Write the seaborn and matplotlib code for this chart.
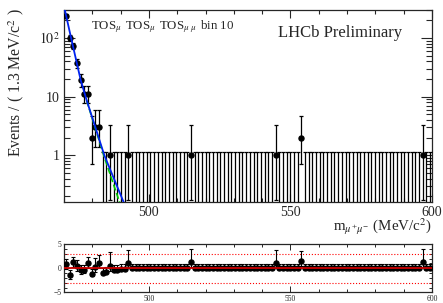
import numpy as np
import pandas as pd
import seaborn as sns
import matplotlib
matplotlib.use("Agg")
from matplotlib import pyplot as plt
from matplotlib.ticker import FixedLocator, FixedFormatter, MultipleLocator, NullFormatter

# binning: 100 bins of 1.3 MeV between 470 and 600
x_lo, x_hi, bin_w = 470.0, 600.0, 1.3

# counts of the first bins, then the isolated non-empty bins further out
counts_head = [240, 100, 73, 37, 19, 11, 11, 2, 3, 3, 0, 0]
tail_bins = [12, 17, 34, 57, 64, 97]
tail_counts = [1, 1, 1, 1, 2, 1]

# Poisson (Garwood) intervals used by the data points
poisson_lo = {0: 0.0, 1: 0.83, 2: 1.29, 3: 1.63, 11: 3.3, 19: 4.3, 37: 6.1, 73: 8.5, 100: 9.5, 240: 15.5}
poisson_hi = {0: 1.15, 1: 2.30, 2: 2.64, 3: 2.92, 11: 4.4, 19: 5.4, 37: 7.1, 73: 9.6, 100: 11.0, 240: 16.5}

# fit curves
total_x = [470.0, 472.1, 475.9, 478.0, 484.24, 490.95, 492.0]
total_y = [348.0, 122.0, 19.1, 8.7, 1.0, 0.164, 0.125]
comp_x = [478.0, 484.24, 489.6, 491.0]
comp_y = [8.6, 0.93, 0.16, 0.10]

# pulls of the first 18 bins
pull_head = [0.8, -1.4, 1.2, 0.5, -0.3, -0.3, 1.0, -1.1, 0.3, 1.0,
             -1.0, -0.7, 0.5, -0.4, -0.3, -0.2, -0.1, 1.0]
pull_lo_head = [1.0, 0.86, 1.0, 1.0, 0.8, 0.75, 1.0, 0.49, 1.0, 1.0,
                0.0, 0.0, 1.0, 0.0, 0.0, 0.0, 0.0, 1.0]
pull_hi_head = [1.06, 1.0, 1.13, 1.16, 1.0, 1.0, 1.33, 1.0, 1.79, 1.79,
                1.0, 1.0, 2.77, 1.0, 1.0, 1.0, 1.0, 2.77]
pull_tail_bins = [34, 57, 64, 97]
pull_tail = [1.2, 1.0, 1.5, 1.2]
pull_tail_hi = [2.77, 2.77, 2.05, 2.77]
pull_empty = -0.05

n_bins = int(round((x_hi - x_lo) / bin_w))
centers = x_lo + bin_w * (np.arange(n_bins) + 0.5)

counts = np.zeros(n_bins, dtype=int)
counts[:len(counts_head)] = counts_head
counts[tail_bins] = tail_counts
err_lo = np.array([poisson_lo[c] for c in counts])
err_hi = np.array([poisson_hi[c] for c in counts])

pulls = np.full(n_bins, pull_empty)
p_lo = np.zeros(n_bins)
p_hi = np.ones(n_bins)
pulls[:len(pull_head)] = pull_head
p_lo[:len(pull_head)] = pull_lo_head
p_hi[:len(pull_head)] = pull_hi_head
pulls[pull_tail_bins] = pull_tail
p_lo[pull_tail_bins] = 1.0
p_hi[pull_tail_bins] = pull_tail_hi

sns.set_theme(style="ticks")
plt.rcParams['font.family'] = ['Liberation Serif', 'DejaVu Serif']
plt.rcParams['mathtext.fontset'] = 'stix'
plt.rcParams['axes.linewidth'] = 0.9
plt.rcParams['xtick.direction'] = 'in'
plt.rcParams['ytick.direction'] = 'in'

fig = plt.figure(figsize=(4.43, 3.03), dpi=100)
ax = fig.add_axes([0.1445, 0.3333, 0.8307, 0.6337])
axp = fig.add_axes([0.1445, 0.0347, 0.8307, 0.160])

# ---- main panel ----
ax.set_yscale('log')
ax.errorbar(centers, counts, yerr=[err_lo, err_hi], fmt='o', color='black',
            markersize=3.6, elinewidth=0.9, capsize=1.4, capthick=0.9, zorder=3)
curves = pd.DataFrame({'x': total_x, 'y': total_y})
comps = pd.DataFrame({'x': comp_x, 'y': comp_y})
sns.lineplot(data=comps, x='x', y='y', ax=ax, color='#00cc00', lw=1.2,
             linestyle='--', zorder=4)
sns.lineplot(data=curves, x='x', y='y', ax=ax, color='#0022ee', lw=1.3, zorder=5)

ax.set_xlim(x_lo, x_hi)
ax.set_ylim(0.16, 300)
ax.yaxis.set_major_locator(FixedLocator([1, 10, 100]))
ax.yaxis.set_major_formatter(FixedFormatter(['1', '10', '$10^2$']))
minors = [m * 10.0 ** e for e in (-1, 0, 1, 2) for m in range(2, 10)]
ax.yaxis.set_minor_locator(FixedLocator(minors))
ax.yaxis.set_minor_formatter(NullFormatter())
ax.xaxis.set_major_locator(MultipleLocator(50))
ax.xaxis.set_minor_locator(MultipleLocator(10))
ax.tick_params(which='both', top=True, right=True, labelsize=10, pad=3)
ax.tick_params(axis='y', which='major', length=8, width=0.8)
ax.tick_params(axis='y', which='minor', length=4.5, width=0.8)
ax.tick_params(axis='x', which='major', length=6, width=0.8)
ax.tick_params(axis='x', which='minor', length=3, width=0.8)
ax.set_xlabel('')
ax.set_ylabel('')

ax.text(0.0726, 0.911,
        r'TOS$_{\mu}\;\,$TOS$_{\mu}\;\,$TOS$_{\mu\;\mu}\,$ bin 10',
        transform=ax.transAxes, fontsize=9.3, ha='left', va='center')
ax.text(0.5815, 0.880, 'LHCb Preliminary', transform=ax.transAxes,
        fontsize=12, ha='left', va='center')
fig.text(0.036, 0.726, r'Events / ( 1.3 MeV/c$^2$ )', rotation=90,
         fontsize=11.3, ha='center', va='center')
fig.text(0.975, 0.251, r'm$_{\mu^{+}\mu^{-}}$ (MeV/c$^2$)', fontsize=10.8,
         ha='right', va='center')

# ---- pull panel ----
ref = pd.DataFrame({'x': [x_lo, x_hi], 'zero': [0, 0], 'up': [3, 3], 'dn': [-3, -3]})
sns.lineplot(data=ref, x='x', y='up', ax=axp, color='red', lw=0.8, linestyle=':')
sns.lineplot(data=ref, x='x', y='dn', ax=axp, color='red', lw=0.8, linestyle=':')
axp.errorbar(centers, pulls, yerr=[p_lo, p_hi], fmt='o', color='black',
             markersize=3.6, elinewidth=0.8, capsize=1.2, capthick=0.8, zorder=3)
sns.lineplot(data=ref, x='x', y='zero', ax=axp, color='#cc0000', lw=1.3, zorder=4)
axp.set_xlim(x_lo, x_hi)
axp.set_ylim(-5, 5)
axp.set_xlabel('')
axp.set_ylabel('')
axp.xaxis.set_major_locator(MultipleLocator(50))
axp.xaxis.set_minor_locator(MultipleLocator(10))
axp.yaxis.set_major_locator(FixedLocator([-5, 0, 5]))
axp.yaxis.set_major_formatter(FixedFormatter(['\u22125', '0', '5']))
axp.yaxis.set_minor_locator(MultipleLocator(1))
axp.tick_params(which='both', top=True, right=True, labelsize=5.5, pad=2, width=0.7)
axp.tick_params(which='major', length=4)
axp.tick_params(which='minor', length=2.5)

plt.savefig('out.png', dpi=100)
